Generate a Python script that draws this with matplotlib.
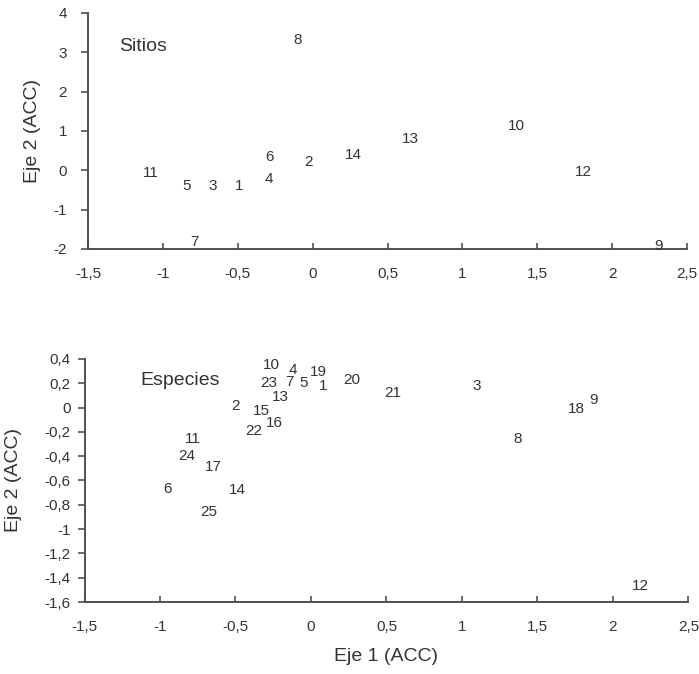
import matplotlib
matplotlib.use("Agg")
import matplotlib.pyplot as plt
from matplotlib.ticker import FuncFormatter

plt.rcParams['font.family'] = ['Liberation Sans', 'DejaVu Sans']

# Sitios (top panel)
sitios_labels = ['1', '2', '3', '4', '5', '6', '7', '8', '9', '10', '11', '12', '13', '14']
sitios_x = [-0.49, -0.03, -0.67, -0.29, -0.84, -0.29, -0.79, -0.10, 2.31, 1.36, -1.08, 1.81, 0.65, 0.27]
sitios_y = [-0.41, 0.20, -0.41, -0.23, -0.41, 0.33, -1.83, 3.31, -1.93, 1.12, -0.08, -0.03, 0.79, 0.38]

# Especies (bottom panel)
especies_labels = ['1', '2', '3', '4', '5', '6', '7', '8', '9', '10', '11', '12', '13',
                   '14', '15', '16', '17', '18', '19', '20', '21', '22', '23', '24', '25']
especies_x = [0.08, -0.50, 1.10, -0.12, -0.05, -0.95, -0.14, 1.37, 1.87, -0.26, -0.78, 2.18, -0.20,
              -0.49, -0.33, -0.24, -0.65, 1.76, 0.05, 0.27, 0.54, -0.38, -0.28, -0.82, -0.68]
especies_y = [0.18, 0.01, 0.18, 0.31, 0.20, -0.67, 0.21, -0.26, 0.06, 0.35, -0.26, -1.47, 0.09,
              -0.68, -0.03, -0.13, -0.49, -0.01, 0.29, 0.23, 0.12, -0.19, 0.20, -0.40, -0.86]

x_ticks = [-1.5, -1, -0.5, 0, 0.5, 1, 1.5, 2, 2.5]
top_y_ticks = [-2, -1, 0, 1, 2, 3, 4]
bot_y_ticks = [-1.6, -1.4, -1.2, -1.0, -0.8, -0.6, -0.4, -0.2, 0.0, 0.2, 0.4]

TXT = '#333333'
AX = '#505050'


def fmt(v, pos=None):
    v = round(v, 2)
    s = ('%g' % v).replace('.', ',')
    if s == '-0':
        s = '0'
    return s


fig = plt.figure(figsize=(6.99, 6.74), dpi=100)
ax1 = fig.add_axes([88 / 699, 1 - 249 / 674, 599 / 699, 236 / 674])
ax2 = fig.add_axes([84.5 / 699, 1 - 602 / 674, 604 / 699, 243 / 674])


def style(ax, yticks, ylim, ypad, ylab_x):
    ax.set_xlim(-1.5, 2.5)
    ax.set_ylim(*ylim)
    ax.set_xticks(x_ticks)
    ax.set_yticks(yticks)
    ax.xaxis.set_major_formatter(FuncFormatter(fmt))
    ax.yaxis.set_major_formatter(FuncFormatter(fmt))
    for s in ['top', 'right']:
        ax.spines[s].set_visible(False)
    for s in ['left', 'bottom']:
        ax.spines[s].set_color(AX)
        ax.spines[s].set_linewidth(1.4)
    ax.tick_params(axis='x', direction='in', length=4, width=1.2, color=AX,
                   labelsize=11, labelcolor=TXT, pad=13)
    ax.tick_params(axis='y', direction='out', length=5, width=1.2, color=AX,
                   labelsize=11, labelcolor=TXT, pad=ypad)
    ax.set_ylabel('Eje 2 (ACC)', fontsize=14, color=TXT, va='center')
    ax.yaxis.set_label_coords(ylab_x, 0.5)


style(ax1, top_y_ticks, (-2, 4), 10, -0.092)
style(ax2, bot_y_ticks, (-1.6, 0.4), 5, -0.118)

for lab, x, y in zip(sitios_labels, sitios_x, sitios_y):
    ax1.text(x, y, lab, ha='center', va='center', fontsize=11, color=TXT, clip_on=False)
for lab, x, y in zip(especies_labels, especies_x, especies_y):
    ax2.text(x, y, lab, ha='center', va='center', fontsize=11, color=TXT, clip_on=False)

ax1.text(-1.13, 3.15, 'Sitios', ha='center', va='center', fontsize=14, color=TXT)
ax2.text(-0.87, 0.22, 'Especies', ha='center', va='center', fontsize=14, color=TXT)

ax2.set_xlabel('Eje 1 (ACC)', fontsize=14, color=TXT, va='center')
ax2.xaxis.set_label_coords(0.5, -0.226)

fig.savefig('out.png', dpi=100, facecolor='white')
